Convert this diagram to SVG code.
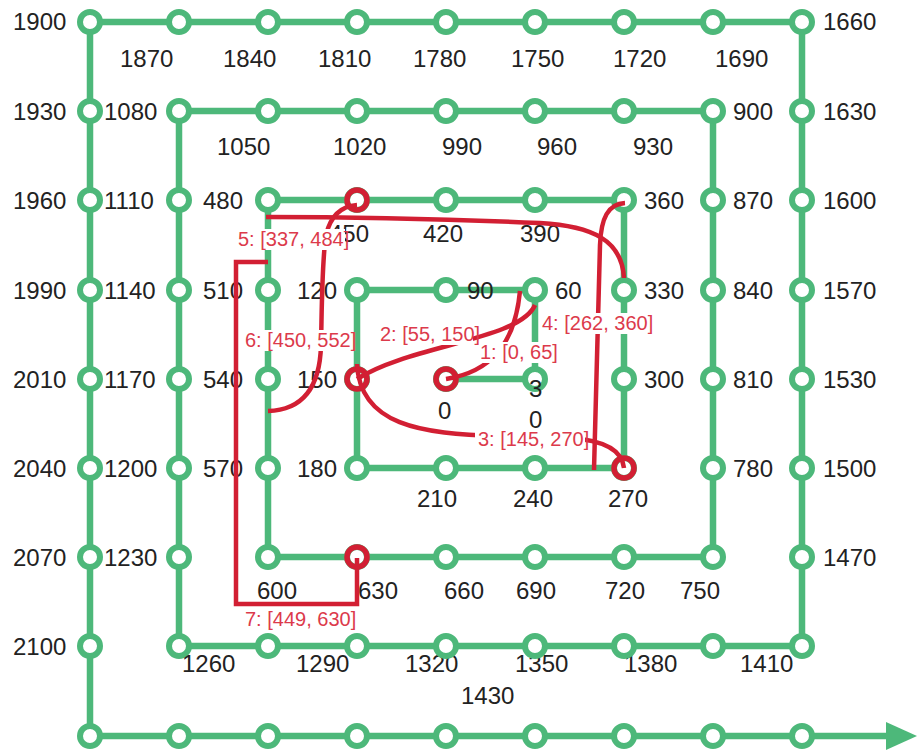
<svg xmlns="http://www.w3.org/2000/svg" width="917" height="750" viewBox="0 0 917 750">
<style>
.g{fill:none;stroke:#4db87a;stroke-width:6.5;stroke-linejoin:miter}
.n circle{fill:#fff;stroke:#4db87a;stroke-width:6}
.n text{font-family:"Liberation Sans",Arial,sans-serif;font-size:24px;fill:#222}
.rc{fill:none;stroke:#d21f33;stroke-width:5.5}
.r{fill:none;stroke:#d21f33;stroke-width:4.5;stroke-linecap:butt}
.lb rect{fill:#fff}
.lb text{font-family:"Liberation Sans",Arial,sans-serif;font-size:20px;fill:#dc3a4b}
</style>
<rect width="917" height="750" fill="#fff"/>
<g id="connectors">
<path class="g" d="M446,379 H535 V290 H357 V468 H624 V200 H268 V557 H713 V111 H179 V646 H802 V22 H90 V736 H893"/>
<polygon points="886,722 917,736 886,750" fill="#4db87a"/>
</g>
<g id="nodes">
<g id="n0" class="n"><circle cx="446" cy="379" r="10"/><text x="438" y="419">0</text></g>
<g id="n30" class="n"><circle cx="535" cy="379" r="10"/><text x="529" y="397">3<tspan x="529" y="428">0</tspan></text></g>
<g id="n60" class="n"><circle cx="535" cy="290" r="10"/><text x="555" y="299">60</text></g>
<g id="n90" class="n"><circle cx="446" cy="290" r="10"/><text x="467" y="299">90</text></g>
<g id="n120" class="n"><circle cx="357" cy="290" r="10"/><text x="297" y="299">120</text></g>
<g id="n150" class="n"><circle cx="357" cy="379" r="10"/><text x="297" y="388">150</text></g>
<g id="n180" class="n"><circle cx="357" cy="468" r="10"/><text x="297" y="477">180</text></g>
<g id="n210" class="n"><circle cx="446" cy="468" r="10"/><text x="417" y="507">210</text></g>
<g id="n240" class="n"><circle cx="535" cy="468" r="10"/><text x="513" y="507">240</text></g>
<g id="n270" class="n"><circle cx="624" cy="468" r="10"/><text x="608" y="507">270</text></g>
<g id="n300" class="n"><circle cx="624" cy="379" r="10"/><text x="644" y="388">300</text></g>
<g id="n330" class="n"><circle cx="624" cy="290" r="10"/><text x="644" y="299">330</text></g>
<g id="n360" class="n"><circle cx="624" cy="200" r="10"/><text x="644" y="209">360</text></g>
<g id="n390" class="n"><circle cx="535" cy="200" r="10"/><text x="520" y="242">390</text></g>
<g id="n420" class="n"><circle cx="446" cy="200" r="10"/><text x="423" y="242">420</text></g>
<g id="n450" class="n"><circle cx="357" cy="200" r="10"/><text x="329" y="242">450</text></g>
<g id="n480" class="n"><circle cx="268" cy="200" r="10"/><text x="203" y="209">480</text></g>
<g id="n510" class="n"><circle cx="268" cy="290" r="10"/><text x="203" y="299">510</text></g>
<g id="n540" class="n"><circle cx="268" cy="379" r="10"/><text x="203" y="388">540</text></g>
<g id="n570" class="n"><circle cx="268" cy="468" r="10"/><text x="203" y="477">570</text></g>
<g id="n600" class="n"><circle cx="268" cy="557" r="10"/><text x="257" y="599">600</text></g>
<g id="n630" class="n"><circle cx="357" cy="557" r="10"/><text x="358" y="599">630</text></g>
<g id="n660" class="n"><circle cx="446" cy="557" r="10"/><text x="444" y="599">660</text></g>
<g id="n690" class="n"><circle cx="535" cy="557" r="10"/><text x="516" y="599">690</text></g>
<g id="n720" class="n"><circle cx="624" cy="557" r="10"/><text x="605" y="599">720</text></g>
<g id="n750" class="n"><circle cx="713" cy="557" r="10"/><text x="680" y="599">750</text></g>
<g id="n780" class="n"><circle cx="713" cy="468" r="10"/><text x="733" y="477">780</text></g>
<g id="n810" class="n"><circle cx="713" cy="379" r="10"/><text x="733" y="388">810</text></g>
<g id="n840" class="n"><circle cx="713" cy="290" r="10"/><text x="733" y="299">840</text></g>
<g id="n870" class="n"><circle cx="713" cy="200" r="10"/><text x="733" y="209">870</text></g>
<g id="n900" class="n"><circle cx="713" cy="111" r="10"/><text x="733" y="120">900</text></g>
<g id="n930" class="n"><circle cx="624" cy="111" r="10"/><text x="633" y="155">930</text></g>
<g id="n960" class="n"><circle cx="535" cy="111" r="10"/><text x="537" y="155">960</text></g>
<g id="n990" class="n"><circle cx="446" cy="111" r="10"/><text x="442" y="155">990</text></g>
<g id="n1020" class="n"><circle cx="357" cy="111" r="10"/><text x="333" y="155">1020</text></g>
<g id="n1050" class="n"><circle cx="268" cy="111" r="10"/><text x="217" y="155">1050</text></g>
<g id="n1080" class="n"><circle cx="179" cy="111" r="10"/><text x="104" y="120">1080</text></g>
<g id="n1110" class="n"><circle cx="179" cy="200" r="10"/><text x="104" y="209">1110</text></g>
<g id="n1140" class="n"><circle cx="179" cy="290" r="10"/><text x="104" y="299">1140</text></g>
<g id="n1170" class="n"><circle cx="179" cy="379" r="10"/><text x="104" y="388">1170</text></g>
<g id="n1200" class="n"><circle cx="179" cy="468" r="10"/><text x="104" y="477">1200</text></g>
<g id="n1230" class="n"><circle cx="179" cy="557" r="10"/><text x="104" y="566">1230</text></g>
<g id="n1260" class="n"><circle cx="179" cy="646" r="10"/><text x="182" y="672">1260</text></g>
<g id="n1290" class="n"><circle cx="268" cy="646" r="10"/><text x="296" y="672">1290</text></g>
<g id="n1320" class="n"><circle cx="357" cy="646" r="10"/><text x="405" y="672">1320</text></g>
<g id="n1350" class="n"><circle cx="446" cy="646" r="10"/><text x="515" y="672">1350</text></g>
<g id="n1380" class="n"><circle cx="535" cy="646" r="10"/><text x="624" y="672">1380</text></g>
<g id="n1410" class="n"><circle cx="624" cy="646" r="10"/><text x="740" y="672">1410</text></g>
<g id="n1430" class="n"><circle cx="713" cy="646" r="10"/><text x="461" y="704">1430</text></g>
<g id="n1440" class="n"><circle cx="802" cy="646" r="10"/></g>
<g id="n1470" class="n"><circle cx="802" cy="557" r="10"/><text x="823" y="566">1470</text></g>
<g id="n1500" class="n"><circle cx="802" cy="468" r="10"/><text x="823" y="477">1500</text></g>
<g id="n1530" class="n"><circle cx="802" cy="379" r="10"/><text x="823" y="388">1530</text></g>
<g id="n1570" class="n"><circle cx="802" cy="290" r="10"/><text x="823" y="299">1570</text></g>
<g id="n1600" class="n"><circle cx="802" cy="200" r="10"/><text x="823" y="209">1600</text></g>
<g id="n1630" class="n"><circle cx="802" cy="111" r="10"/><text x="823" y="120">1630</text></g>
<g id="n1660" class="n"><circle cx="802" cy="22" r="10"/><text x="823" y="30">1660</text></g>
<g id="n1690" class="n"><circle cx="713" cy="22" r="10"/><text x="715" y="67">1690</text></g>
<g id="n1720" class="n"><circle cx="624" cy="22" r="10"/><text x="613" y="67">1720</text></g>
<g id="n1750" class="n"><circle cx="535" cy="22" r="10"/><text x="511" y="67">1750</text></g>
<g id="n1780" class="n"><circle cx="446" cy="22" r="10"/><text x="413" y="67">1780</text></g>
<g id="n1810" class="n"><circle cx="357" cy="22" r="10"/><text x="318" y="67">1810</text></g>
<g id="n1840" class="n"><circle cx="268" cy="22" r="10"/><text x="223" y="67">1840</text></g>
<g id="n1870" class="n"><circle cx="179" cy="22" r="10"/><text x="120" y="67">1870</text></g>
<g id="n1900" class="n"><circle cx="90" cy="22" r="10"/><text x="13" y="30">1900</text></g>
<g id="n1930" class="n"><circle cx="90" cy="111" r="10"/><text x="13" y="120">1930</text></g>
<g id="n1960" class="n"><circle cx="90" cy="200" r="10"/><text x="13" y="209">1960</text></g>
<g id="n1990" class="n"><circle cx="90" cy="290" r="10"/><text x="13" y="299">1990</text></g>
<g id="n2010" class="n"><circle cx="90" cy="379" r="10"/><text x="13" y="388">2010</text></g>
<g id="n2040" class="n"><circle cx="90" cy="468" r="10"/><text x="13" y="477">2040</text></g>
<g id="n2070" class="n"><circle cx="90" cy="557" r="10"/><text x="13" y="566">2070</text></g>
<g id="n2100" class="n"><circle cx="90" cy="646" r="10"/><text x="13" y="655">2100</text></g>
<g id="b0" class="n"><circle cx="90" cy="736" r="10"/></g>
<g id="b1" class="n"><circle cx="179" cy="736" r="10"/></g>
<g id="b2" class="n"><circle cx="268" cy="736" r="10"/></g>
<g id="b3" class="n"><circle cx="357" cy="736" r="10"/></g>
<g id="b4" class="n"><circle cx="446" cy="736" r="10"/></g>
<g id="b5" class="n"><circle cx="535" cy="736" r="10"/></g>
<g id="b6" class="n"><circle cx="624" cy="736" r="10"/></g>
<g id="b7" class="n"><circle cx="713" cy="736" r="10"/></g>
<g id="b8" class="n"><circle cx="802" cy="736" r="10"/></g>
</g>
<g id="marks">
<circle class="rc" cx="446" cy="379" r="10"/>
<circle class="rc" cx="357" cy="379" r="10"/>
<circle class="rc" cx="624" cy="468" r="10"/>
<circle class="rc" cx="357" cy="200" r="10"/>
<circle class="rc" cx="357" cy="557" r="10"/>
</g>
<g id="intervals">
<path class="r" d="M446,379 C490,372 515,345 520,291"/>
<path class="r" d="M535,305 C520,340 410,345 357,379"/>
<path class="r" d="M357,364 C360,425 420,434 500,436 L570,438 C600,440 622,448 624,468"/>
<path class="r" d="M594,470 L600,245 C601,218 608,204 625,203"/>
<path class="r" d="M624,278 C622,240 592,226 540,223 C470,220 360,217 266,217"/>
<path class="r" d="M357,205 C343,206 331,214 326,235 C322,260 322,300 321,345 C320,385 305,410 268,411"/>
<path class="r" d="M268,262 H236 V604 H357 V558"/>
</g>
<g id="labels" class="lb">
<rect x="477" y="342" width="79" height="21"/><text x="480" y="359">1: [0, 65]</text>
<rect x="377" y="324" width="96" height="21"/><text x="380" y="341">2: [55, 150]</text>
<rect x="475" y="429" width="110" height="21"/><text x="478" y="446">3: [145, 270]</text>
<rect x="539" y="313" width="106" height="21"/><text x="542" y="330">4: [262, 360]</text>
<rect x="235" y="229" width="110" height="21"/><text x="238" y="246">5: [337, 484]</text>
<rect x="242" y="330" width="107" height="21"/><text x="245" y="347">6: [450, 552]</text>
<rect x="242" y="609" width="107" height="21"/><text x="245" y="626">7: [449, 630]</text>
</g>
</svg>
